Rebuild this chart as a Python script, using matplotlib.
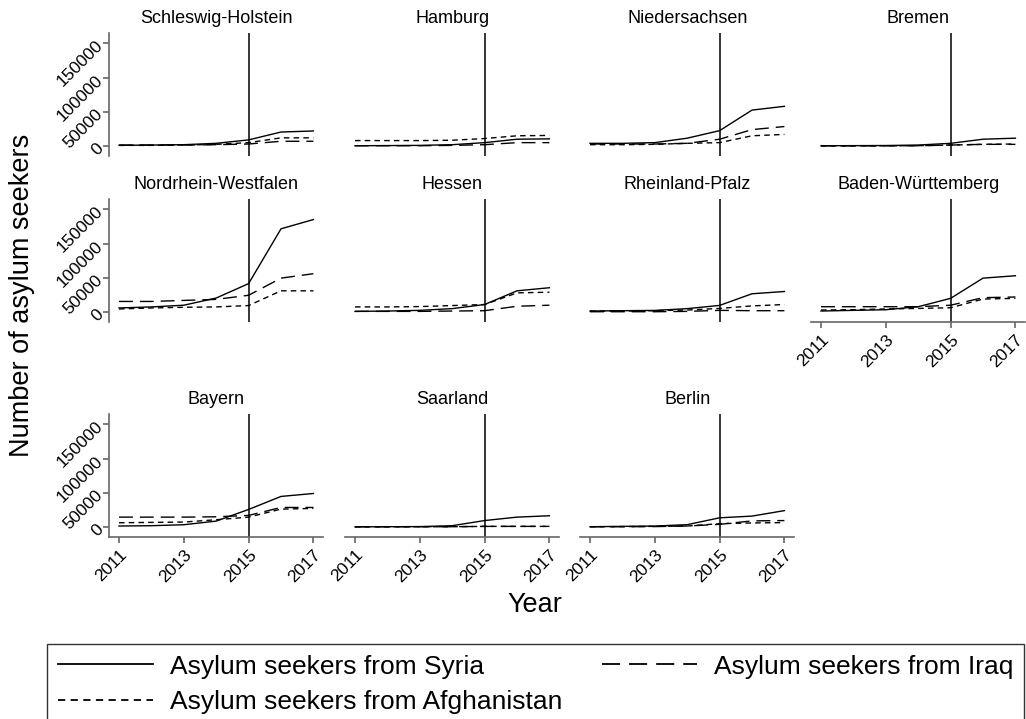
import matplotlib
matplotlib.use("Agg")
import matplotlib.pyplot as plt
from matplotlib.lines import Line2D

plt.rcParams["font.family"] = ["Liberation Sans", "DejaVu Sans"]

years = [2011, 2012, 2013, 2014, 2015, 2016, 2017]

states = ["Schleswig-Holstein", "Hamburg", "Niedersachsen", "Bremen",
          "Nordrhein-Westfalen", "Hessen", "Rheinland-Pfalz", "Baden-Württemberg",
          "Bayern", "Saarland", "Berlin"]

# Asylum seekers per state, 2011-2017
syria = [
    [1000, 1500, 2000, 4000, 9000, 20500, 22000],
    [500, 700, 1000, 2000, 5000, 10000, 10500],
    [4000, 4000, 5000, 11500, 22500, 52500, 58000],
    [500, 600, 800, 1500, 4000, 10000, 11500],
    [6000, 7500, 10000, 20500, 41500, 121500, 135000],
    [1000, 1500, 2500, 5000, 11000, 31000, 35500],
    [1500, 2000, 2400, 5000, 9700, 26700, 30000],
    [1500, 2500, 3400, 7800, 20000, 49500, 53000],
    [1500, 2000, 3400, 8700, 25700, 44700, 49000],
    [300, 500, 700, 2000, 9500, 14500, 16500],
    [500, 1000, 1500, 3500, 13500, 16000, 24000],
]
iraq = [
    [1500, 1500, 1500, 2000, 3000, 7000, 7000],
    [500, 500, 500, 1000, 2000, 5000, 5000],
    [3000, 3000, 3000, 4000, 10000, 24000, 28500],
    [300, 300, 300, 500, 1500, 2500, 2500],
    [15500, 15500, 17000, 18500, 24500, 49500, 56000],
    [1000, 1000, 1000, 1500, 2000, 8500, 10000],
    [500, 500, 500, 1000, 2500, 2000, 2000],
    [7800, 7800, 7800, 7800, 10000, 21000, 22000],
    [14500, 14500, 14500, 15000, 17000, 28600, 28600],
    [500, 500, 500, 500, 1000, 1000, 1000],
    [500, 500, 700, 1500, 4000, 9000, 9500],
]
afghanistan = [
    [1000, 1000, 1500, 2500, 5000, 12000, 12000],
    [8000, 8000, 8000, 8500, 11000, 15000, 15500],
    [2000, 2000, 2500, 4000, 5000, 15000, 17000],
    [300, 300, 400, 600, 1500, 2500, 3000],
    [4500, 6000, 7000, 7500, 9500, 31000, 31000],
    [7500, 7500, 8000, 9500, 11000, 28000, 29000],
    [1500, 1500, 2000, 3000, 5300, 9000, 11000],
    [3000, 3500, 4500, 5300, 6300, 19000, 20000],
    [6300, 6800, 7300, 10700, 14500, 26200, 27200],
    [300, 300, 400, 500, 1000, 1000, 1000],
    [500, 700, 1000, 1500, 5000, 6000, 6500],
]

yticks = [0, 50000, 100000, 150000]
xticks = [2011, 2013, 2015, 2017]

W, H = 1026, 719
fig = plt.figure(figsize=(W / 100, H / 100), dpi=100)

col_x = [119, 355, 590, 821]          # pixel of 2011 in each column
row_y = [(33, 156), (199, 322), (414, 537)]
ppy = 32.4
axis_col = "#666666"

long_dash = (0, (10, 5))
short_dash = (0, (4, 3))

for i, st in enumerate(states):
    r, c = divmod(i, 4)
    left = col_x[c] - 0.31 * ppy
    top, bot = row_y[r]
    ax = fig.add_axes([left / W, 1 - bot / H, 6.62 * ppy / W, (bot - top) / H])
    ax.plot(years, syria[i], color="black", lw=1.0, ls="-")
    ax.plot(years, iraq[i], color="black", lw=1.0, ls=long_dash)
    ax.plot(years, afghanistan[i], color="black", lw=1.0, ls=short_dash)
    ax.axvline(2015, color="black", lw=1.1)
    ax.set_xlim(2011 - 0.31, 2017 + 0.31)
    ax.set_ylim(-14500, 165000)
    ax.set_title(st, fontsize=13, pad=7)
    for s in ax.spines.values():
        s.set_visible(False)
    ax.set_xticks(xticks)
    ax.set_yticks(yticks)
    show_y = c == 0
    show_x = r == 2 or st == "Baden-Württemberg"
    if show_y:
        ax.spines["left"].set_visible(True)
        ax.spines["left"].set_color(axis_col)
        ax.spines["left"].set_linewidth(1.2)
        ax.set_yticklabels([str(v) for v in yticks], rotation=45,
                           ha="right", va="center", rotation_mode="anchor")
        ax.tick_params(axis="y", length=4, width=1.2, color=axis_col,
                       labelsize=12.5, pad=2)
    else:
        ax.tick_params(axis="y", left=False, labelleft=False)
    if show_x:
        ax.spines["bottom"].set_visible(True)
        ax.spines["bottom"].set_color(axis_col)
        ax.spines["bottom"].set_linewidth(1.2)
        ax.set_xticklabels([str(v) for v in xticks], rotation=45,
                           ha="right", va="top", rotation_mode="anchor")
        ax.tick_params(axis="x", length=4, width=1.2, color=axis_col,
                       labelsize=12.5, pad=3)
    else:
        ax.tick_params(axis="x", bottom=False, labelbottom=False)
    ax.set_facecolor("none")

fig.text(22 / W, 1 - 295 / H, "Number of asylum seekers", rotation=90,
         ha="center", va="center", fontsize=19.5)
fig.text(535 / W, 1 - 605 / H, "Year", ha="center", va="center", fontsize=19.5)

# column-wise fill: Syria, Afghanistan | Iraq
handles = [
    Line2D([], [], color="black", lw=1.3, ls="-"),
    Line2D([], [], color="black", lw=1.3, ls=short_dash),
    Line2D([], [], color="black", lw=1.3, ls=long_dash),
]
labels = ["Asylum seekers from Syria", "Asylum seekers from Afghanistan",
          "Asylum seekers from Iraq"]
leg = fig.legend(handles, labels, ncol=2, loc="upper left",
                 bbox_to_anchor=(47 / W, 1 - 644 / H), borderaxespad=0,
                 fontsize=19, frameon=True, fancybox=False, edgecolor="black",
                 handlelength=3.6, handletextpad=0.65, columnspacing=1.5,
                 labelspacing=0.45, borderpad=0.4)
leg.get_frame().set_linewidth(1.0)

fig.savefig("out.png", dpi=100, facecolor="white")
